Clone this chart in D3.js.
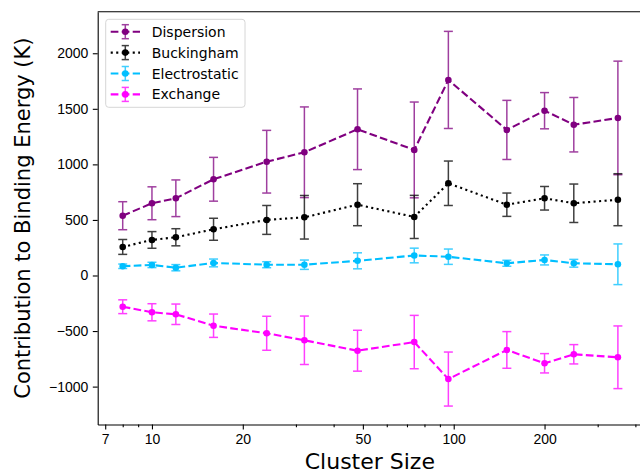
<!DOCTYPE html>
<html>
<head>
<meta charset="utf-8">
<script src="https://cdn.jsdelivr.net/npm/d3@7"></script>
<style>
  body { margin: 0; background: #fff; }
  svg { display: block; font-family: "DejaVu Sans", sans-serif; }
  .axis path, .axis line { stroke: #000; stroke-width: 1.1; }
  .axis text { font-size: 14px; fill: #000; }
</style>
</head>
<body>
<svg id="chart" width="640" height="474"></svg>
<script>

// cluster sizes (x) and the four contributions with their error bars
var sizes = [8, 10, 12, 16, 24, 32, 48, 74, 96, 150, 200, 250, 350];

var dispersion = [538, 650, 695, 866, 1024, 1109, 1316, 1130, 1760, 1310, 1483, 1357, 1418];
var dispersionErr = [126, 148, 165, 197, 282, 408, 363, 431, 437, 266, 163, 245, 511];

var buckingham = [257, 320, 344, 416, 500, 524, 637, 527, 830, 637, 695, 650, 682];
var buckinghamErr = [67, 75, 77, 99, 130, 196, 189, 194, 200, 105, 106, 173, 234];

var electrostatic = [83, 95, 70, 113, 97, 97, 132, 180, 169, 110, 140, 110, 101];
var electrostaticErr = [20, 24, 28, 35, 27, 42, 72, 66, 69, 27, 45, 35, 183];

var exchange = [-281, -331, -349, -452, -520, -583, -677, -599, -932, -670, -790, -709, -736];
var exchangeErr = [62, 77, 92, 105, 153, 218, 184, 240, 243, 165, 87, 87, 282];

var xMajor = [7, 10, 20, 50, 100, 200];
var xMinor = [8, 9, 30, 40, 60, 70, 80, 90, 300, 400];
var yTicks = [-1000, -500, 0, 500, 1000, 1500, 2000];

var series = [
  {name: "Dispersion", values: dispersion, err: dispersionErr, color: "#800080", dash: "7.7,3.3"},
  {name: "Buckingham", values: buckingham, err: buckinghamErr, color: "#000000", dash: "2.1,3.4"},
  {name: "Electrostatic", values: electrostatic, err: electrostaticErr, color: "#00bfff", dash: "7.7,3.3"},
  {name: "Exchange", values: exchange, err: exchangeErr, color: "#ff00ff", dash: "7.7,3.3"}
];

var svg = d3.select("#chart"),
    // the right spine sits just past the picture edge, as in the original
    margin = {top: 11.7, left: 97.7, right: 642, bottom: 424.5};

var x = d3.scaleLog().domain([6.61, 420.7]).range([margin.left, margin.right]),
    y = d3.scaleLinear().domain([-1341, 2374]).range([margin.bottom, margin.top]);

svg.append("rect").attr("width", 640).attr("height", 474).attr("fill", "#fff");

var plot = svg.append("g");

series.forEach(function(s) {
  var pts = sizes.map(function(d, i) { return {x: d, y: s.values[i], e: s.err[i]}; });
  var g = plot.append("g");

  // error bars with caps
  var bars = g.selectAll(".bar")
    .data(pts)
    .enter().append("g")
      .attr("stroke", s.color)
      .attr("stroke-width", 1.5)
      .attr("opacity", 0.75);
  bars.append("line")
    .attr("x1", function(d) { return x(d.x); })
    .attr("x2", function(d) { return x(d.x); })
    .attr("y1", function(d) { return y(d.y - d.e); })
    .attr("y2", function(d) { return y(d.y + d.e); });
  [-1, 1].forEach(function(sign) {
    bars.append("line")
      .attr("x1", function(d) { return x(d.x) - 4.5; })
      .attr("x2", function(d) { return x(d.x) + 4.5; })
      .attr("y1", function(d) { return y(d.y + sign * d.e); })
      .attr("y2", function(d) { return y(d.y + sign * d.e); });
  });

  var line = d3.line()
    .x(function(d) { return x(d.x); })
    .y(function(d) { return y(d.y); });

  g.append("path")
    .datum(pts)
    .attr("d", line)
    .attr("fill", "none")
    .attr("stroke", s.color)
    .attr("stroke-width", 2.1)
    .attr("stroke-dasharray", s.dash);

  g.selectAll(".dot")
    .data(pts)
    .enter().append("circle")
      .attr("cx", function(d) { return x(d.x); })
      .attr("cy", function(d) { return y(d.y); })
      .attr("r", 3.3)
      .attr("fill", s.color);
});

// x axis: labelled majors plus unlabelled minors
svg.append("g")
  .attr("class", "axis")
  .attr("transform", "translate(0," + margin.bottom + ")")
  .call(d3.axisBottom(x).tickValues(xMajor).tickFormat(d3.format("d")).tickSizeInner(4.9).tickSizeOuter(0).tickPadding(4.5));

svg.append("g")
  .attr("class", "axis")
  .attr("transform", "translate(0," + margin.bottom + ")")
  .call(d3.axisBottom(x).tickValues(xMinor).tickFormat("").tickSizeInner(2.8).tickSizeOuter(0))
  .select(".domain").remove();

svg.append("g")
  .attr("class", "axis")
  .attr("transform", "translate(" + margin.left + ",0)")
  .call(d3.axisLeft(y).tickValues(yTicks).tickFormat(function(d) { return d < 0 ? "\u2212" + Math.abs(d) : d; }).tickSizeInner(4.9).tickSizeOuter(0).tickPadding(4.5));

// top spine
svg.append("line")
  .attr("x1", margin.left).attr("x2", margin.right)
  .attr("y1", margin.top).attr("y2", margin.top)
  .attr("stroke", "#000").attr("stroke-width", 1.1);

// axis titles
svg.append("text")
  .attr("x", (margin.left + margin.right) / 2)
  .attr("y", 469)
  .attr("text-anchor", "middle")
  .style("font-size", "22px")
  .text("Cluster Size");

svg.append("text")
  .attr("transform", "translate(30," + (margin.top + margin.bottom) / 2 + ") rotate(-90)")
  .attr("text-anchor", "middle")
  .style("font-size", "21px")
  .text("Contribution to Binding Energy (K)");

// legend
var legend = svg.append("g").attr("transform", "translate(105.7,19.3)");

legend.append("rect")
  .attr("width", 139.3)
  .attr("height", 88)
  .attr("rx", 3)
  .attr("fill", "#fff")
  .attr("fill-opacity", 0.8)
  .attr("stroke", "#d6d6d6")
  .attr("stroke-width", 1);

var item = legend.selectAll(".item")
  .data(series)
  .enter().append("g")
    .attr("transform", function(d, i) { return "translate(0," + (12.4 + i * 20.9) + ")"; });

item.append("line")
  .attr("x1", 5).attr("x2", 34.3)
  .attr("stroke", function(d) { return d.color; })
  .attr("stroke-width", 2.1)
  .attr("stroke-dasharray", function(d) { return d.dash; });

item.append("g")
  .attr("stroke", function(d) { return d.color; })
  .attr("stroke-width", 1.5)
  .attr("opacity", 0.75)
  .each(function() {
    var b = d3.select(this);
    b.append("line").attr("x1", 19.6).attr("x2", 19.6).attr("y1", -7).attr("y2", 7);
    b.append("line").attr("x1", 16).attr("x2", 23.2).attr("y1", -7).attr("y2", -7);
    b.append("line").attr("x1", 16).attr("x2", 23.2).attr("y1", 7).attr("y2", 7);
  });

item.append("circle")
  .attr("cx", 19.6)
  .attr("r", 3.3)
  .attr("fill", function(d) { return d.color; });

item.append("text")
  .attr("x", 46)
  .attr("dy", "0.36em")
  .style("font-size", "14px")
  .text(function(d) { return d.name; });

</script>
</body>
</html>
